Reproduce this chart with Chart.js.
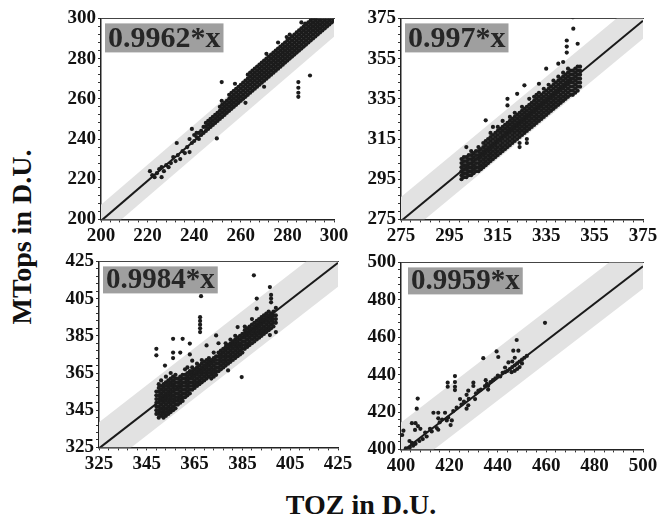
<!DOCTYPE html>
<html>
<head>
<meta charset="utf-8">
<script src="https://cdn.jsdelivr.net/npm/chart.js@4.4.1/dist/chart.umd.min.js"></script>
<style>
  body { margin: 0; width: 660px; height: 518px; background: #fff; position: relative; overflow: hidden; }
  .panel { position: absolute; }
  .title { position: absolute; font: bold 28px "Liberation Serif", serif; color: #111; white-space: nowrap; }
</style>
</head>
<body>
<div class="title" style="left:22px; top:237px; transform: translate(-50%, -50%) rotate(-90deg);">MTops in D.U.</div>
<div class="title" style="left:361px; top:505px; transform: translate(-50%, -50%);">TOZ in D.U.</div>
<script>
"use strict";

// tick labels of each panel (same on both axes)
const axisTicks = [
  [200, 220, 240, 260, 280, 300],
  [275, 295, 315, 335, 355, 375],
  [325, 345, 365, 385, 405, 425],
  [400, 420, 440, 460, 480, 500],
];

// fitted slopes shown in the grey boxes
const slopes = [0.9962, 0.997, 0.9984, 0.9959];

// grey band half widths (above / below the fit line), in D.U.
const bandUp = [8, 12, 14, 16];
const bandDown = [8, 9, 13, 12];

// points: [TOZ, [MTops values at that TOZ]]
const panel1 = [
  [221,[224]],[222,[222]],[223,[221]],[224,[223]],[225,[225]],[226,[221,226]],[227,[224]],[228,[227]],[229,[226]],[230,[228]],
  [231,[231]],[232,[229]],[232.5,[238]],[233,[232]],[234,[230]],[235,[234]],[236,[233]],[237,[236]],[238,[233.5,240]],[239,[238,245]],
  [240,[239,242]],[241,[241,243]],[242,[240,243]],[243,[242,244]],[244,[243,246]],[245,[244,246,248]],[246,[245,247,249]],[247,[246,248,250]],
  [248,[247,249,251]],[249,[248,250,252]],[249.7,[240.3]],[250,[249,251,253]],[251,[250,252,254,256]],[251.8,[259,268.3]],
  [252,[251,253,255,257]],[253,[252,254,256,258]],[254,[253,255,257,259]],[255,[254,256,258,260,262]],[256,[255,257,259,261,263]],
  [257,[256,258,260,262,264]],[257.5,[267.5]],[258,[257,259,261,263,265]],[259,[258,260,262,264,266]],[260,[259,261,263,265,267]],
  [261,[260,262,264,266,268]],[262,[258,261,263,265,267,269]],[263,[262,264,266,268,270,272]],[264,[263,265,267,269,271,273]],
  [265,[264,266,268,270,272,274]],[266,[265,267,269,271,273,275]],[267,[266,268,270,272,274,276]],[268,[267,269,271,273,275,277]],
  [269,[268,270,272,274,276,278]],[270,[266,269,271,273,275,277,279]],[271,[270,272,274,276,278,280,282.4]],
  [272,[271,273,275,277,279,281]],[273,[272,274,276,278,280,282]],[274,[273,275,277,279,281,283]],[275,[274,276,278,280,282,284]],
  [276,[275,277,279,281,283,285,288]],[277,[276,278,280,282,284,286]],[278,[277,279,281,283,285,287]],[279,[278,280,282,284,286,288]],
  [279.7,[290.7]],[280,[279,281,283,285,287,289]],[281,[280,282,284,286,288,290,292]],[282,[281,283,285,287,289,291]],
  [283,[282,284,286,288,290,292]],[284,[283,285,287,289,291,293]],[284.7,[261,263,265.5,268.3]],[285,[284,286,288,290,292,294]],
  [286,[285,287,289,291,293,295,298]],[287,[286,288,290,292,294,296]],[287.6,[297.4]],[288,[287,289,291,293,295,297]],
  [289,[288,290,292,294,296,298]],[289.7,[271.6]],[290,[289,291,293,295,297,299]],[291,[290,292,294,296,298,300]],
  [292,[291,293,295,297,299]],[293,[292,294,296,298,300]],[294,[293,295,297,299]],[295,[294,296,298,300]],
  [296,[295,297,299]],[297,[296,298,300]],[298,[297,299]],[299,[298,300]],[300,[299]],
];

const panel2 = [
  [300,[295,297,299,301,303,305]],[301,[296,298,300,302,304,306]],[302,[296,298,300,302,304,306,311]],
  [303,[297,299,301,303,305,307]],[304,[297,299,301,303,305,307,309]],[305,[298,300,302,304,306,308]],
  [306,[299,301,303,305,307,309]],[307,[299,301,303,305,307,309,311]],[308,[300,302,304,306,308,310]],
  [309,[301,303,305,307,309,311,313]],[310,[302,304,306,308,310,312,314,324.3]],[311,[303,305,307,309,311,313,315]],
  [312,[304,306,308,310,312,314,316,318]],[313,[305,307,309,311,313,315,317,321]],[314,[306,308,310,312,314,316,318]],
  [315,[307,309,311,313,315,317,319,321]],[316,[308,310,312,314,316,318,320]],[317,[309,311,313,315,317,319,321,324]],
  [318,[310,312,314,316,318,320,322]],[319,[311,313,315,317,319,321,323,331.7,335]],[320,[312,314,316,318,320,322,324,326]],
  [321,[313,315,317,319,321,323,325]],[322,[314,316,318,320,322,324,326,328]],[323,[315,317,319,321,323,325,327,337.5]],
  [324,[311,313,316,318,320,322,324,326,328]],[325,[317,319,321,323,325,327,329,331]],[326,[318,320,322,324,326,328,330,341.7]],
  [327,[313,315,319,321,323,325,327,329,331]],[328,[320,322,324,326,328,330,332,335]],[329,[321,323,325,327,329,331,333]],
  [330,[322,324,326,328,330,332,334,336]],[331,[323,325,327,329,331,333,335,337]],[332,[324,326,328,330,332,334,336,338,342.5]],
  [333,[325,327,329,331,333,335,337]],[334,[326,328,330,332,334,336,338,340]],[335,[327,329,331,333,335,337,339,350]],
  [336,[328,330,332,334,336,338,340,342]],[337,[329,331,333,335,337,339,341]],[338,[330,332,334,336,338,340,342,344]],
  [339,[331,333,335,337,339,341,343]],[340,[332,334,336,338,340,342,344,346,352.5]],[341,[333,335,337,339,341,343,345]],
  [342,[334,336,338,340,342,344,346,348,353.3]],[343,[335,337,339,341,343,345,347]],[343.5,[358,361,364]],
  [344,[336,338,340,342,344,346,348,350]],[345,[337,339,341,343,345,347,349]],[346,[337,339,341,343,345,347,349,375.6]],
  [346.2,[369.9]],[347,[338,340,342,344,346,348,350]],[348,[339,341,343,345,347,349,351,362.4]],[349,[341,343,345,347,349,351]],
];

const panel3 = [
  [349,[343,345,347,349,351,353,355,374.5,378]],[350,[341,343,345,347,349,351,353,355,357,359]],
  [351,[342,344,346,348,350,352,354,356,358,361]],[352,[341,343,345,347,349,351,353,355,357,359]],[352.6,[369]],
  [353,[342,344,346,348,350,352,354,356,358,360,363]],[354,[343,345,347,349,351,353,355,357,359,361]],
  [355,[344,346,348,350,352,354,356,358,360,362,365]],[356,[345,347,349,351,353,355,357,359,361,363,373,376,383.4]],
  [357,[346,348,350,352,354,356,358,360,362,364]],[358,[348,350,352,354,356,358,360,362]],
  [359,[349,351,353,355,357,359,361,363,376]],[360,[350,352,354,356,358,360,362,364,383.4]],
  [361,[352,354,356,358,360,362,364,367]],[362,[353,355,357,359,361,363,365,368]],
  [363,[354,356,358,360,362,364,366,375,380.8]],[364,[356,358,360,362,364,366,368,371.6]],
  [365,[357,359,361,363,365,367]],[366,[358,360,362,364,366,368,370]],[367,[359,361,363,365,367,369]],
  [367.3,[387,389,391,393,395]],[367.7,[406.3]],[368,[360,362,364,366,368,370,372]],[369,[361,363,365,367,369,371]],
  [370,[362,364,366,368,370,372,379.8]],[371,[363,365,367,369,371,373]],[372,[362,364,366,368,370,372]],
  [373,[363,365,367,369,371,373,376]],[374,[364,366,368,370,372,374,385.2]],[375,[366,368,370,372,374,376,381]],
  [376,[367,369,371,373,375,377]],[377,[368,370,372,374,376,378]],[378,[369,371,373,375,377,379,381]],
  [379,[366.4,370,372,374,376,378,380]],[380,[371,373,375,377,379,381,383]],[381,[372,374,376,378,380,382]],
  [382,[373,375,377,379,381,383,385]],[383,[374,376,378,380,382,384,389.7]],[384,[375,377,379,381,383,385]],[384.7,[362.8]],
  [385,[376,378,380,382,384,386]],[386,[378,380,382,384,386,388,390]],[387,[379,381,383,385,387,389]],
  [388,[380,382,384,386,388,390]],[389,[381,383,385,387,389,391,394]],[389.8,[417.5]],[390,[382,384,386,388,390,392]],
  [391,[383,385,387,389,391,393,399.6,405]],[392,[384,386,388,390,392,394]],[393,[385,387,389,391,393,395]],
  [394,[386,388,390,392,394,396]],[395,[387,389,391,393,395,397]],[396,[388,390,392,394,396,398]],
  [396.5,[385.4,411.2]],[397,[389,391,393,395,397,403,405,407]],[398,[390,392,394,396,398]],[399,[387,392,394,396,400]],
];

const panel4 = [
  [400.5,[407.7]],[401,[410]],[402,[400.5]],[403.5,[404.5]],[403.6,[401]],[404.5,[403.5,414]],[405,[402]],[405.8,[410.4]],
  [406,[403,414]],[406.5,[421.8]],[406.9,[427.2]],[407,[412.5]],[407.6,[404.5]],[408,[411]],[409,[405.5]],[410,[409]],
  [410.6,[406.9]],[412,[411]],[412.7,[409.6]],[413.4,[419.6]],[414.8,[411.4]],[415.4,[410.5,416.6,419.6]],[416,[414.5]],
  [417,[416]],[418.2,[419.6]],[418.9,[415.5]],[419.3,[433.5,435.7]],[419.5,[417]],[420.5,[413]],[421,[415.5]],
  [421.6,[420.5]],[422.3,[431.7,433.5,436,439.2]],[423,[422.3]],[424.4,[426.9]],[425,[424]],[426,[425.5]],
  [427.1,[421.8,429.2]],[427.8,[423.6,431.4]],[428,[427]],[429.9,[433.9,435.7]],[430.6,[426.9]],[431,[430]],
  [432,[431.5]],[433,[432]],[434,[448.8]],[434.7,[433.9]],[435,[437]],[435.5,[435]],[436,[432,434]],[437,[436]],
  [438,[437]],[439,[438]],[439.5,[452.4]],[440,[439.5]],[440.2,[449.4]],[441,[439]],[442,[441]],[443,[441.3,443.8]],
  [444,[442]],[444.4,[446.5]],[445,[443]],[445.7,[441.3]],[446,[444,447]],[446.4,[452.8]],[447,[442,445,449]],
  [447.8,[458.5]],[448,[443,446]],[448.5,[452.8]],[449,[444,447]],[450,[446,448]],[451,[449]],[452,[450]],[459.5,[467.7]],
];

const panels = [panel1, panel2, panel3, panel4];

// where each plot area sits on the page
const boxes = [
  { l: 101, t: 18, r: 334, b: 219 },
  { l: 401, t: 18, r: 643, b: 219 },
  { l: 99, t: 261, r: 338, b: 447 },
  { l: 401, t: 262, r: 643, b: 449 },
];

const FONT = '"Liberation Serif", "Times New Roman", serif';

function minorTicks(labels) {
  const step = (labels[1] - labels[0]) / 5;
  const out = [];
  for (let v = labels[0]; v <= labels[labels.length - 1] + 1e-9; v += step) out.push(v);
  return out;
}

function toPoints(cols) {
  const pts = [];
  cols.forEach((c) => c[1].forEach((y) => pts.push({ x: c[0], y: y })));
  return pts;
}

const fitLabel = {
  id: "fitLabel",
  afterDatasetsDraw(chart, args, opts) {
    const a = chart.chartArea;
    const ctx = chart.ctx;
    ctx.save();
    ctx.font = "bold " + opts.size + "px " + FONT;
    const w = ctx.measureText(opts.text).width;
    ctx.fillStyle = "#9f9f9f";
    ctx.fillRect(a.left + opts.dx, a.top + opts.dy, w + 6, opts.h);
    ctx.fillStyle = "#262626";
    ctx.textBaseline = "middle";
    ctx.fillText(opts.text, a.left + opts.dx + 3, a.top + opts.dy + opts.h / 2 + 1);
    ctx.restore();
  },
};

function axis(labels, pos, fit) {
  return {
    type: "linear",
    position: pos,
    min: labels[0],
    max: labels[labels.length - 1],
    z: 1,
    afterBuildTicks: (s) => { s.ticks = minorTicks(labels).map((v) => ({ value: v })); },
    afterFit: fit,
    ticks: {
      autoSkip: false,
      maxRotation: 0,
      padding: 2,
      color: "#111",
      font: { family: FONT, size: 19, weight: "bold" },
      callback: (v) => (labels.includes(v) ? String(v) : ""),
    },
    grid: { drawOnChartArea: false, drawTicks: true, tickLength: 3, color: "#333" },
    border: { color: "#222", width: 1.5 },
  };
}

function place(chart, wrap, box) {
  for (let i = 0; i < 2; i++) {
    const a = chart.chartArea;
    const w = wrap.clientWidth + (box.r - box.l) - (a.right - a.left);
    const h = wrap.clientHeight + (box.b - box.t) - (a.bottom - a.top);
    wrap.style.width = w + "px";
    wrap.style.height = h + "px";
    chart.resize();
    const a2 = chart.chartArea;
    wrap.style.left = box.l - a2.left + "px";
    wrap.style.top = box.t - a2.top + "px";
  }
}

function makePanel(i) {
  const box = boxes[i];
  const labels = axisTicks[i];
  const lo = labels[0], hi = labels[labels.length - 1];
  const k = slopes[i];

  const wrap = document.createElement("div");
  wrap.className = "panel";
  wrap.style.left = box.l - 50 + "px";
  wrap.style.top = box.t - 12 + "px";
  wrap.style.width = box.r - box.l + 70 + "px";
  wrap.style.height = box.b - box.t + 40 + "px";
  const cv = document.createElement("canvas");
  wrap.appendChild(cv);
  document.body.appendChild(wrap);

  const ext = [lo - 20, hi + 20];

  const chart = new Chart(cv, {
    type: "scatter",
    data: {
      datasets: [
        {
          label: "points",
          data: toPoints(panels[i]),
          pointRadius: 2.1,
          pointHoverRadius: 0,
          backgroundColor: "#1c1c1c",
          borderWidth: 0,
          order: 0,
        },
        {
          type: "line",
          label: "fit",
          data: [{ x: lo, y: k * lo }, { x: hi, y: k * hi }],
          borderColor: "#1a1a1a",
          borderWidth: 2,
          pointRadius: 0,
          fill: false,
          order: 1,
        },
        {
          type: "line",
          label: "band top",
          data: ext.map((x) => ({ x: x, y: k * x + bandUp[i] })),
          borderWidth: 0,
          pointRadius: 0,
          backgroundColor: "#e2e2e2",
          fill: "+1",
          clip: { left: 0, top: 1, right: 0, bottom: 0 },
          order: 2,
        },
        {
          type: "line",
          label: "band bottom",
          data: ext.map((x) => ({ x: x, y: k * x - bandDown[i] })),
          borderWidth: 0,
          pointRadius: 0,
          fill: false,
          order: 3,
        },
      ],
    },
    options: {
      responsive: true,
      maintainAspectRatio: false,
      animation: false,
      events: [],
      layout: { padding: { top: 10, right: 20, left: 0, bottom: 0 } },
      scales: {
        x: axis(labels, "bottom", (s) => { s.height = 25; }),
        y: axis(labels, "left", (s) => { s.width = 48; }),
        xTop: {
          type: "linear",
          position: "top",
          min: lo,
          max: hi,
          ticks: { display: false },
          grid: { drawOnChartArea: false, drawTicks: false },
          border: { color: "#444", width: 1 },
        },
      },
      plugins: {
        legend: { display: false },
        tooltip: { enabled: false },
        fitLabel: { text: k + "*x", size: i < 2 ? 30 : 29, dx: i === 3 ? 7 : 4, dy: 5, h: i < 2 ? 29 : 27 },
      },
    },
    plugins: [fitLabel],
  });

  place(chart, wrap, box);
}

for (let i = 0; i < 4; i++) makePanel(i);
</script>
</body>
</html>
